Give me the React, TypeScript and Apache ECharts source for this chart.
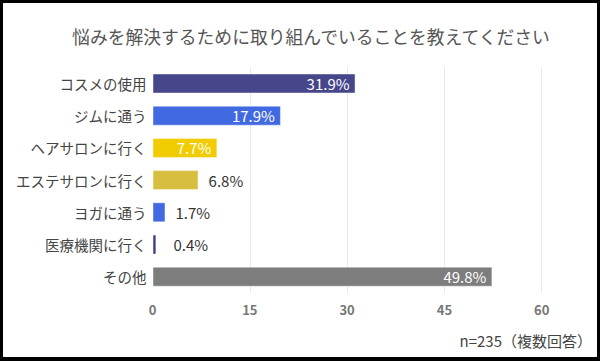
import React, { useEffect, useRef } from "react";
import * as echarts from "echarts";

const titleText = "悩みを解決するために取り組んでいることを教えてください";
const noteText = "n=235（複数回答）";
const categories = ["コスメの使用", "ジムに通う", "ヘアサロンに行く", "エステサロンに行く", "ヨガに通う", "医療機関に行く", "その他"];
// bar lengths as drawn in the picture
const barValues = [31.3, 19.8, 10.0, 7.1, 2.0, 0.6, 52.4];
// percentage labels as printed
const labelTexts = ["31.9%", "17.9%", "7.7%", "6.8%", "1.7%", "0.4%", "49.8%"];
const barColors = ["#46468a", "#4169e1", "#f0cc00", "#d8be3e", "#4169e1", "#3f3f8c", "#7d7d7d"];
const labelInside = [true, true, true, false, false, false, true];
const outsideDistance = [0, 0, 0, 10, 10, 17, 0];
const tickMax = 60;
const tickStep = 15;

const FONT = '"Noto Sans CJK JP", "Noto Sans", sans-serif';

export default function App() {
  const ref = useRef<HTMLDivElement>(null);
  useEffect(() => {
    if (!ref.current) return;
    const chart = echarts.init(ref.current, null, { renderer: "svg" });
    chart.setOption({
      animation: false,
      backgroundColor: "#ffffff",
      title: {
        text: titleText,
        left: 303,
        top: 19,
        textAlign: "center",
        textStyle: { fontFamily: FONT, fontSize: 17.8, fontWeight: "normal", color: "#555555" },
      },
      graphic: [
        {
          type: "text",
          right: 5,
          top: 330,
          style: { text: noteText, font: `15px ${FONT}`, fill: "#444444" },
        },
      ],
      grid: { left: 149.5, right: 55.3, top: 64.4, bottom: 64.2, containLabel: false },
      xAxis: {
        type: "value",
        min: 0,
        max: tickMax,
        interval: tickStep,
        axisLine: { show: false },
        axisTick: { show: false },
        splitLine: { show: true, showMinLine: false, lineStyle: { color: "#e8e8e8", width: 1 } },
        axisLabel: { fontFamily: FONT, fontSize: 13, color: "#777777", fontWeight: "bold", margin: 10 },
      },
      yAxis: {
        type: "category",
        data: categories,
        inverse: true,
        axisLine: { show: false },
        axisTick: { show: false },
        axisLabel: { fontFamily: FONT, fontSize: 14.5, color: "#444444", margin: 6 },
      },
      series: [
        {
          type: "bar",
          barWidth: 20,
          data: barValues.map((v, i) => ({
            value: v,
            itemStyle: { color: barColors[i], borderColor: "rgba(255,255,255,0.45)", borderWidth: 1 },
            label: {
              show: true,
              position: labelInside[i] ? "insideRight" : "right",
              distance: labelInside[i] ? 6 : outsideDistance[i],
              formatter: () => labelTexts[i],
              color: labelInside[i] ? "#ffffff" : "#333333",
              fontFamily: FONT,
              fontSize: 15,
            },
          })),
        },
      ],
    });
    return () => chart.dispose();
  }, []);
  return (
    <div style={{ position: "absolute", left: 0, top: 0, width: 600, height: 361, background: "#000" }}>
      <div style={{ position: "absolute", left: 3, top: 3, width: 594, height: 354, background: "#fff" }}>
        <div ref={ref} style={{ width: 594, height: 354 }} />
      </div>
    </div>
  );
}
